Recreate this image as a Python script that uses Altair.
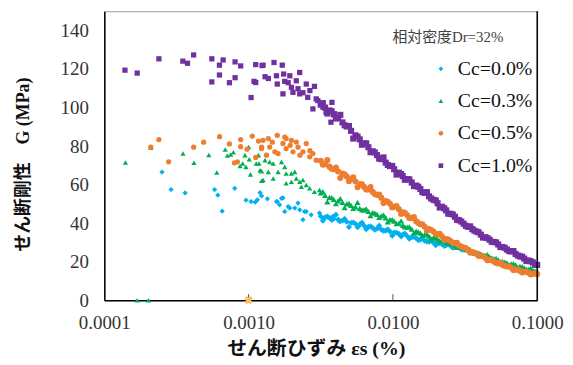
import altair as alt
import pandas as pd

SERIF = "Liberation Serif, Noto Sans CJK JP"

series_names = ["Cc=0.0%", "Cc=0.3%", "Cc=0.5%", "Cc=1.0%"]
series_colors = ["#00B0F0", "#00B050", "#ED7D31", "#7030A0"]
series_shapes = ["diamond", "triangle-up", "circle", "square"]

x_tick_values = [0.0001, 0.001, 0.01, 0.1]
y_tick_values = [0, 20, 40, 60, 80, 100, 120, 140]
x_inner_ticks = [0.001, 0.01]

# dense part of the curves (shared strain grids, %)
strain_grid = [0.00316, 0.00339, 0.00363, 0.00389, 0.00417, 0.00447, 0.00479, 0.00513, 0.00550, 0.00589,
               0.00631, 0.00676, 0.00724, 0.00776, 0.00832, 0.00891, 0.00955, 0.0102, 0.0110, 0.0117,
               0.0126, 0.0135, 0.0145, 0.0155, 0.0166, 0.0178, 0.0191, 0.0204, 0.0219, 0.0234,
               0.0251, 0.0269, 0.0288, 0.0309, 0.0331, 0.0355, 0.0380, 0.0407, 0.0437, 0.0468,
               0.0501, 0.0537, 0.0575, 0.0617, 0.0661, 0.0708, 0.0759, 0.0813, 0.0871, 0.0933, 0.1000]
strain_mid = [0.00327, 0.00351, 0.00376, 0.00403, 0.00432, 0.00463, 0.00496, 0.00531, 0.00569, 0.00610,
              0.00653, 0.00700, 0.00749, 0.00803, 0.00861, 0.00922, 0.00989, 0.0106, 0.0114, 0.0121,
              0.0130, 0.0140, 0.0150, 0.0160, 0.0172, 0.0184, 0.0198, 0.0211, 0.0227, 0.0242,
              0.0260, 0.0278, 0.0298, 0.0320, 0.0343, 0.0367, 0.0393, 0.0421, 0.0452, 0.0484,
              0.0519, 0.0556, 0.0595, 0.0639, 0.0684, 0.0733, 0.0786, 0.0842, 0.0902, 0.0966]

g00_dense = [43.6, 43.0, 42.8, 42.3, 41.8, 41.2, 40.7, 40.2, 39.7, 39.2,
             38.7, 38.1, 37.6, 37.1, 36.6, 36.1, 35.6, 35.1, 34.5, 34.0,
             33.2, 32.7, 32.2, 31.4, 30.9, 30.4, 29.9, 29.6, 29.1, 28.6,
             28.1, 27.6, 27.1, 26.3, 25.8]
g00_mid = [41.2, 43.4, 41.6, 44.4, 41.1, 42.2, 38.0, 40.3, 37.9, 40.3,
           36.8, 38.3, 36.6, 38.7, 36.1, 36.8, 33.5, 35.0, 33.1, 34.6,
           31.9, 32.8, 31.2, 32.5, 30.5, 30.8, 28.5, 29.5, 28.1, 29.1,
           27.2, 27.6, 26.4, 26.9]
g03_dense = [55.7, 54.4, 53.4, 52.3, 51.5, 50.8, 50.0, 49.2, 48.5, 47.7,
             46.9, 46.1, 45.4, 44.6, 43.8, 42.8, 41.8, 41.0, 39.9, 38.9,
             37.9, 36.9, 35.8, 34.8, 34.0, 33.2, 32.5, 31.7, 30.9, 30.2,
             29.4, 28.6, 27.8, 27.1, 26.3, 25.5, 24.7, 24.0, 23.2, 22.4,
             21.6, 20.9, 20.1, 19.3, 18.8, 18.3, 17.5, 16.8, 16.0, 15.5, 14.9]
g03_mid = [56.4, 51.1, 53.2, 50.1, 52.7, 48.0, 50.2, 47.7, 50.8, 46.9,
           47.4, 43.9, 45.2, 43.0, 44.3, 40.7, 41.8, 39.7, 41.2, 38.1,
           38.0, 35.1, 35.4, 33.6, 34.3, 31.8, 32.4, 30.7, 31.9, 29.6,
           29.4, 27.4, 27.6, 26.2, 26.4, 24.4, 24.6, 23.3, 23.6, 21.9,
           21.7, 19.7, 19.8, 18.5, 19.0, 17.2, 17.4, 16.1, 16.6, 15.1]
g05_dense = [72.4, 70.6, 69.3, 68.0, 66.8, 65.7, 64.2, 62.9, 61.6, 60.3,
             58.8, 57.5, 56.2, 54.6, 53.1, 51.5, 50.0, 48.5, 47.2, 45.6,
             44.1, 42.5, 41.0, 39.4, 38.1, 36.9, 35.6, 34.3, 33.0, 31.7,
             30.7, 29.6, 28.4, 27.3, 26.0, 25.0, 24.0, 22.9, 21.9, 20.9,
             20.1, 19.1, 18.3, 17.5, 16.8, 16.0, 15.2, 14.7, 14.2, 13.7, 13.4]
g05_mid = [70.3, 72.7, 68.2, 68.8, 63.4, 65.3, 61.8, 63.8, 58.6, 60.2,
           57.4, 58.7, 55.1, 54.8, 50.4, 51.0, 48.1, 48.9, 44.8, 45.3,
           42.7, 43.1, 40.0, 39.4, 36.2, 36.4, 34.2, 34.4, 31.3, 31.5,
           29.8, 29.8, 27.7, 27.1, 24.7, 24.6, 22.9, 22.9, 20.7, 20.7,
           19.3, 19.5, 17.8, 17.6, 15.6, 15.7, 14.4, 14.9, 13.3, 13.8]
g10_dense = [101.5, 100.0, 98.5, 96.4, 94.6, 92.3, 90.2, 87.9, 85.6, 83.5,
             81.4, 79.4, 77.3, 75.3, 73.2, 71.4, 69.6, 68.0, 66.2, 64.4,
             62.9, 61.1, 59.5, 57.7, 55.7, 53.9, 52.1, 50.3, 48.5, 46.6,
             44.8, 43.3, 41.5, 39.7, 38.1, 36.9, 35.6, 34.0, 32.7, 31.4,
             30.2, 28.9, 27.6, 26.3, 25.3, 24.0, 22.7, 21.6, 20.6, 19.6, 18.3]
g10_mid = [102.3, 96.9, 98.1, 94.3, 96.2, 90.8, 90.4, 83.9, 84.9, 80.7,
           81.4, 76.8, 76.7, 73.5, 74.1, 70.2, 69.7, 65.2, 65.5, 62.5,
           62.7, 59.2, 58.9, 56.1, 56.1, 52.8, 51.8, 48.1, 47.7, 44.9,
           44.5, 41.7, 40.8, 38.6, 38.3, 36.1, 35.2, 32.5, 32.2, 30.3,
           30.0, 27.6, 27.2, 25.5, 25.5, 23.2, 22.6, 20.3, 20.2, 18.4]

# scattered small-strain points
s00_strain = [0.000251, 0.000290, 0.000363, 0.000581, 0.000612, 0.000656, 0.000801, 0.000959, 0.00104, 0.00111,
              0.00115, 0.00120, 0.00123, 0.00135, 0.00158, 0.00173, 0.00164, 0.00188, 0.00178, 0.00209,
              0.00220, 0.00244, 0.00271, 0.00310, 0.00327, 0.00238, 0.00226, 0.00251, 0.00193, 0.00383,
              0.00425, 0.00156, 0.00169]
s00_g = [66.5, 57.4, 55.7, 57.4, 54.5, 46.2, 58.1, 51.9, 51.2, 50.9,
         52.1, 55.8, 54.1, 52.6, 51.2, 53.1, 49.5, 48.6, 46.0, 47.8,
         50.4, 46.0, 44.3, 45.2, 42.6, 41.8, 46.9, 46.0, 47.8, 43.5,
         40.9, 51.2, 52.9]

s03_strain = [0.000140, 0.000210, 0.000351, 0.000418, 0.000530, 0.000602, 0.000688, 0.000713, 0.000751, 0.000784,
              0.000872, 0.000909, 0.000944, 0.00100, 0.00101, 0.000959, 0.00103, 0.00117, 0.00118, 0.00123,
              0.00123, 0.00113, 0.00130, 0.00140, 0.00148, 0.00120, 0.00126, 0.00137, 0.00148, 0.00160,
              0.00169, 0.00178, 0.00182, 0.00198, 0.00209, 0.00182, 0.00198, 0.00214, 0.00226, 0.00238,
              0.00251, 0.00232, 0.00265, 0.00286, 0.00310, 0.000169, 0.000202, 0.00100]
s03_g = [71.5, 79.2, 76.1, 71.3, 75.4, 66.3, 78.2, 75.1, 75.6, 76.8,
         69.7, 71.0, 75.3, 79.5, 73.2, 69.2, 65.3, 75.3, 71.0, 67.0,
         62.0, 71.0, 72.7, 71.8, 71.0, 67.5, 62.4, 66.6, 63.2, 66.6,
         71.8, 69.2, 65.8, 65.8, 66.6, 60.7, 61.5, 63.2, 61.5, 62.4,
         59.8, 58.9, 58.1, 56.3, 57.2, 0.0, 0.0, 0.0]

s05_strain = [0.000210, 0.000239, 0.000279, 0.000416, 0.000488, 0.000629, 0.000736, 0.000881, 0.000881, 0.00106,
              0.00117, 0.00123, 0.000975, 0.00112, 0.000797, 0.000836, 0.00126, 0.00137, 0.00158, 0.00178,
              0.00182, 0.00198, 0.00214, 0.00251, 0.00123, 0.00140, 0.00152, 0.00133, 0.00160, 0.00182,
              0.00203, 0.00238, 0.00279, 0.00265, 0.00294, 0.00194, 0.00220, 0.00173, 0.00227, 0.00266,
              0.00146]
s05_g = [79.4, 83.4, 71.8, 79.4, 82.0, 84.9, 81.1, 83.4, 79.7, 85.2,
         82.6, 78.7, 78.4, 74.1, 71.3, 71.8, 83.0, 83.9, 85.6, 84.7,
         83.9, 83.0, 82.1, 81.3, 79.5, 79.5, 77.0, 75.3, 76.1, 78.7,
         77.0, 77.0, 76.1, 74.4, 72.7, 80.4, 79.4, 81.4, 75.3, 77.6,
         82.0]

s10_strain = [0.000139, 0.000169, 0.000239, 0.000350, 0.000377, 0.000416, 0.000556, 0.000666, 0.000628, 0.000806,
              0.000881, 0.00112, 0.00124, 0.000628, 0.000556, 0.000736, 0.000806, 0.00109, 0.00112, 0.00104,
              0.00126, 0.00150, 0.00171, 0.00130, 0.00137, 0.00156, 0.00158, 0.00175, 0.00193, 0.00226,
              0.00214, 0.00178, 0.00173, 0.00198, 0.00251, 0.00286, 0.00203, 0.00226, 0.00257, 0.00294,
              0.00279, 0.00327, 0.00378, 0.00344, 0.00393, 0.00372, 0.00220, 0.00238, 0.00266, 0.00302,
              0.00188]
s10_g = [119.4, 117.9, 125.3, 124.1, 123.0, 127.3, 125.3, 124.7, 122.0, 123.7,
         121.6, 122.3, 121.8, 116.9, 113.3, 112.9, 115.5, 113.6, 113.0, 105.2,
         122.0, 123.4, 122.0, 116.0, 115.1, 116.5, 112.2, 117.4, 116.5, 118.2,
         113.9, 113.6, 107.1, 110.5, 112.2, 111.0, 107.9, 107.1, 105.3, 104.5,
         99.3, 100.2, 102.7, 97.6, 96.8, 92.4, 109.8, 107.7, 108.8, 103.6,
         112.9]

extra_strain = [0.001]
extra_g = [0.0]


def build(pairs):
    rows = []
    for name, xs, ys in pairs:
        for xv, yv in zip(xs, ys):
            rows.append({"strain": xv, "G": yv, "series": name})
    return pd.DataFrame(rows)


df_scatter = build([
    (series_names[0], s00_strain, s00_g),
    (series_names[1], s03_strain, s03_g),
    (series_names[2], s05_strain, s05_g),
    (series_names[3], s10_strain, s10_g),
])
df_dense = build([
    (series_names[0], strain_grid[:len(g00_dense)], g00_dense),
    (series_names[0], strain_mid[:len(g00_mid)], g00_mid),
    (series_names[1], strain_grid, g03_dense),
    (series_names[1], strain_mid, g03_mid),
    (series_names[2], strain_grid, g05_dense),
    (series_names[2], strain_mid, g05_mid),
    (series_names[3], strain_grid, g10_dense),
    (series_names[3], strain_mid, g10_mid),
])

legend = alt.Legend(orient="none", legendX=329, legendY=48, title=None,
                    labelFont=SERIF, labelFontSize=20, labelColor="#111111",
                    symbolSize=22, rowPadding=12.5, labelOffset=7, padding=0,
                    symbolStrokeWidth=0)

xscale = alt.Scale(type="log", domain=[0.0001, 0.1])
yscale = alt.Scale(domain=[0, 150])

x_enc = alt.X("strain:Q", scale=xscale,
              axis=alt.Axis(values=x_tick_values, format=".4f", labelFlush=False, ticks=False, grid=False,
                            labelFont=SERIF, labelFontSize=19, labelColor="#333333", labelPadding=14,
                            domainColor="#000000", domainWidth=1.5,
                            title="せん断ひずみ εs (%)", titleFont=SERIF, titleFontSize=20,
                            titleFontWeight="bold", titleColor="#111111",
                            titleX=213, titleY=49, titleAlign="center", titleBaseline="middle"))
y_enc = alt.Y("G:Q", scale=yscale,
              axis=alt.Axis(values=y_tick_values, ticks=False, grid=False,
                            labelFont=SERIF, labelFontSize=19, labelColor="#333333", labelPadding=16,
                            domainColor="#000000", domainWidth=1.5,
                            title="せん断剛性　G (MPa)", titleFont=SERIF, titleFontSize=18,
                            titleFontWeight="bold", titleColor="#111111", titleAngle=270,
                            titleX=-81, titleY=154, titleAlign="center", titleBaseline="middle"))
color_enc = alt.Color("series:N", scale=alt.Scale(domain=series_names, range=series_colors), legend=legend)
shape_enc = alt.Shape("series:N", scale=alt.Scale(domain=series_names, range=series_shapes), legend=legend)

scatter = alt.Chart(df_scatter).mark_point(filled=True, size=28, opacity=1).encode(
    x=x_enc, y=y_enc, color=color_enc, shape=shape_enc)
dense = alt.Chart(df_dense).mark_point(filled=True, size=38, opacity=1).encode(
    x=x_enc, y=y_enc, color=color_enc, shape=shape_enc)

extra = alt.Chart(pd.DataFrame({"strain": extra_strain, "G": extra_g})).mark_point(
    shape="cross", angle=45, size=70, filled=True, color="#F5C26B", opacity=1
).encode(x=alt.X("strain:Q", scale=xscale), y=alt.Y("G:Q", scale=yscale))

ticks = alt.Chart(pd.DataFrame({"strain": x_inner_ticks})).mark_rule(color="#555555", strokeWidth=1).encode(
    x=alt.X("strain:Q", scale=xscale), y=alt.value(291), y2=alt.value(285))

right_border = alt.Chart(pd.DataFrame({"a": [0]})).mark_rule(color="#000000", strokeWidth=1.5).encode(
    x=alt.value(436), y=alt.value(0), y2=alt.value(291))

note = alt.Chart(pd.DataFrame({"t": ["相対密度Dr=32%"]})).mark_text(
    font=SERIF, fontSize=15, color="#404040", align="center", baseline="middle"
).encode(text="t:N", x=alt.value(346), y=alt.value(26))

chart = alt.layer(ticks, scatter, dense, extra, right_border, note).properties(
    width=436, height=291, autosize="none",
    padding={"left": 97, "top": 2, "right": 28, "bottom": 60},
).configure_view(stroke="#999999", strokeWidth=1)

chart.save("out.html", embed_options={"renderer": "svg", "actions": False})
